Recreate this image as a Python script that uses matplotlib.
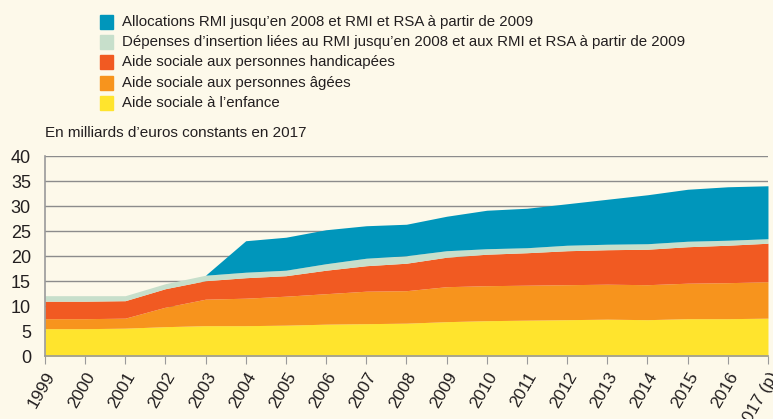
import matplotlib
matplotlib.use("Agg")
import matplotlib.pyplot as plt
from matplotlib.patches import Rectangle
import numpy as np

years = ["1999", "2000", "2001", "2002", "2003", "2004", "2005", "2006", "2007", "2008",
         "2009", "2010", "2011", "2012", "2013", "2014", "2015", "2016", "2017 (p)"]

enfance = [5.5, 5.5, 5.6, 5.9, 6.1, 6.1, 6.2, 6.4, 6.5, 6.6, 6.9, 7.1, 7.2, 7.3, 7.4, 7.3, 7.5, 7.5, 7.6]
agees = [2.0, 2.0, 2.0, 3.9, 5.3, 5.5, 5.8, 6.1, 6.5, 6.5, 7.0, 7.0, 7.0, 7.0, 7.0, 7.0, 7.1, 7.2, 7.3]
handicapees = [3.5, 3.5, 3.5, 3.7, 3.7, 4.1, 4.1, 4.7, 5.1, 5.5, 5.9, 6.3, 6.5, 6.8, 6.9, 7.1, 7.3, 7.5, 7.7]
insertion = [1.1, 1.1, 1.0, 1.0, 1.1, 1.1, 1.1, 1.3, 1.5, 1.5, 1.3, 1.1, 1.0, 1.1, 1.1, 1.1, 1.1, 1.0, 0.9]
rmi = [0, 0, 0, 0, 0, 6.3, 6.6, 6.8, 6.5, 6.3, 6.9, 7.7, 7.9, 8.3, 9.0, 9.8, 10.4, 10.7, 10.6]

labels = ["Aide sociale à l\u2019enfance",
          "Aide sociale aux personnes âgées",
          "Aide sociale aux personnes handicapées",
          "Dépenses d\u2019insertion liées au RMI jusqu\u2019en 2008 et aux RMI et RSA à partir de 2009",
          "Allocations RMI jusqu\u2019en 2008 et RMI et RSA à partir de 2009"]
colors = ["#FFE42D", "#F7941D", "#F15A22", "#C7DFCB", "#0096BB"]

bg = "#FDF9EA"
plt.rcParams['font.family'] = ['Liberation Sans', 'DejaVu Sans']

fig = plt.figure(figsize=(7.73, 4.19), dpi=100, facecolor=bg)
ax = fig.add_axes([0.058, 0.150, 0.9355, 0.477], facecolor=bg)

x = np.arange(len(years))
series = [enfance, agees, handicapees, insertion, rmi]
bottom = np.zeros(len(years))
for vals, c in zip(series, colors):
    v = np.array(vals, dtype=float)
    ax.fill_between(x, bottom, bottom + v, color=c, linewidth=0, zorder=2)
    bottom = bottom + v

ax.set_xlim(0, len(years) - 1)
ax.set_ylim(0, 40)
ax.set_yticks(range(0, 41, 5))
ax.yaxis.grid(True, color="#8C8C8C", linewidth=1.0, zorder=1)
ax.set_axisbelow(True)
for s in ["top", "right"]:
    ax.spines[s].set_visible(False)
for s in ["left", "bottom"]:
    ax.spines[s].set_color("#9A9A9A")
    ax.spines[s].set_linewidth(1.2)
    ax.spines[s].set_zorder(3)
ax.tick_params(axis="y", length=0, labelsize=13, colors="#231F20", pad=10)
ax.tick_params(axis="x", length=6, color="#9A9A9A", labelsize=12.5, labelcolor="#231F20")
ax.set_xticks(x)
ax.set_xticklabels(years, rotation=60, ha="right", rotation_mode="anchor")

fig.text(0.058, 0.665, "En milliards d\u2019euros constants en 2017", fontsize=11, color="#231F20",
         va="bottom", ha="left")

# legend
leg_order = [4, 3, 2, 1, 0]
ys = [22, 42, 62, 83, 103]
for i, yy in zip(leg_order, ys):
    fig.patches.append(Rectangle((100 / 773, 1 - (yy + 7) / 419), 13 / 773, 14 / 419,
                                 transform=fig.transFigure, color=colors[i], figure=fig))
    fig.text(122 / 773, 1 - yy / 419, labels[i], fontsize=10.8, color="#231F20",
             va="center", ha="left")

fig.savefig("out.png", dpi=100, facecolor=bg)
